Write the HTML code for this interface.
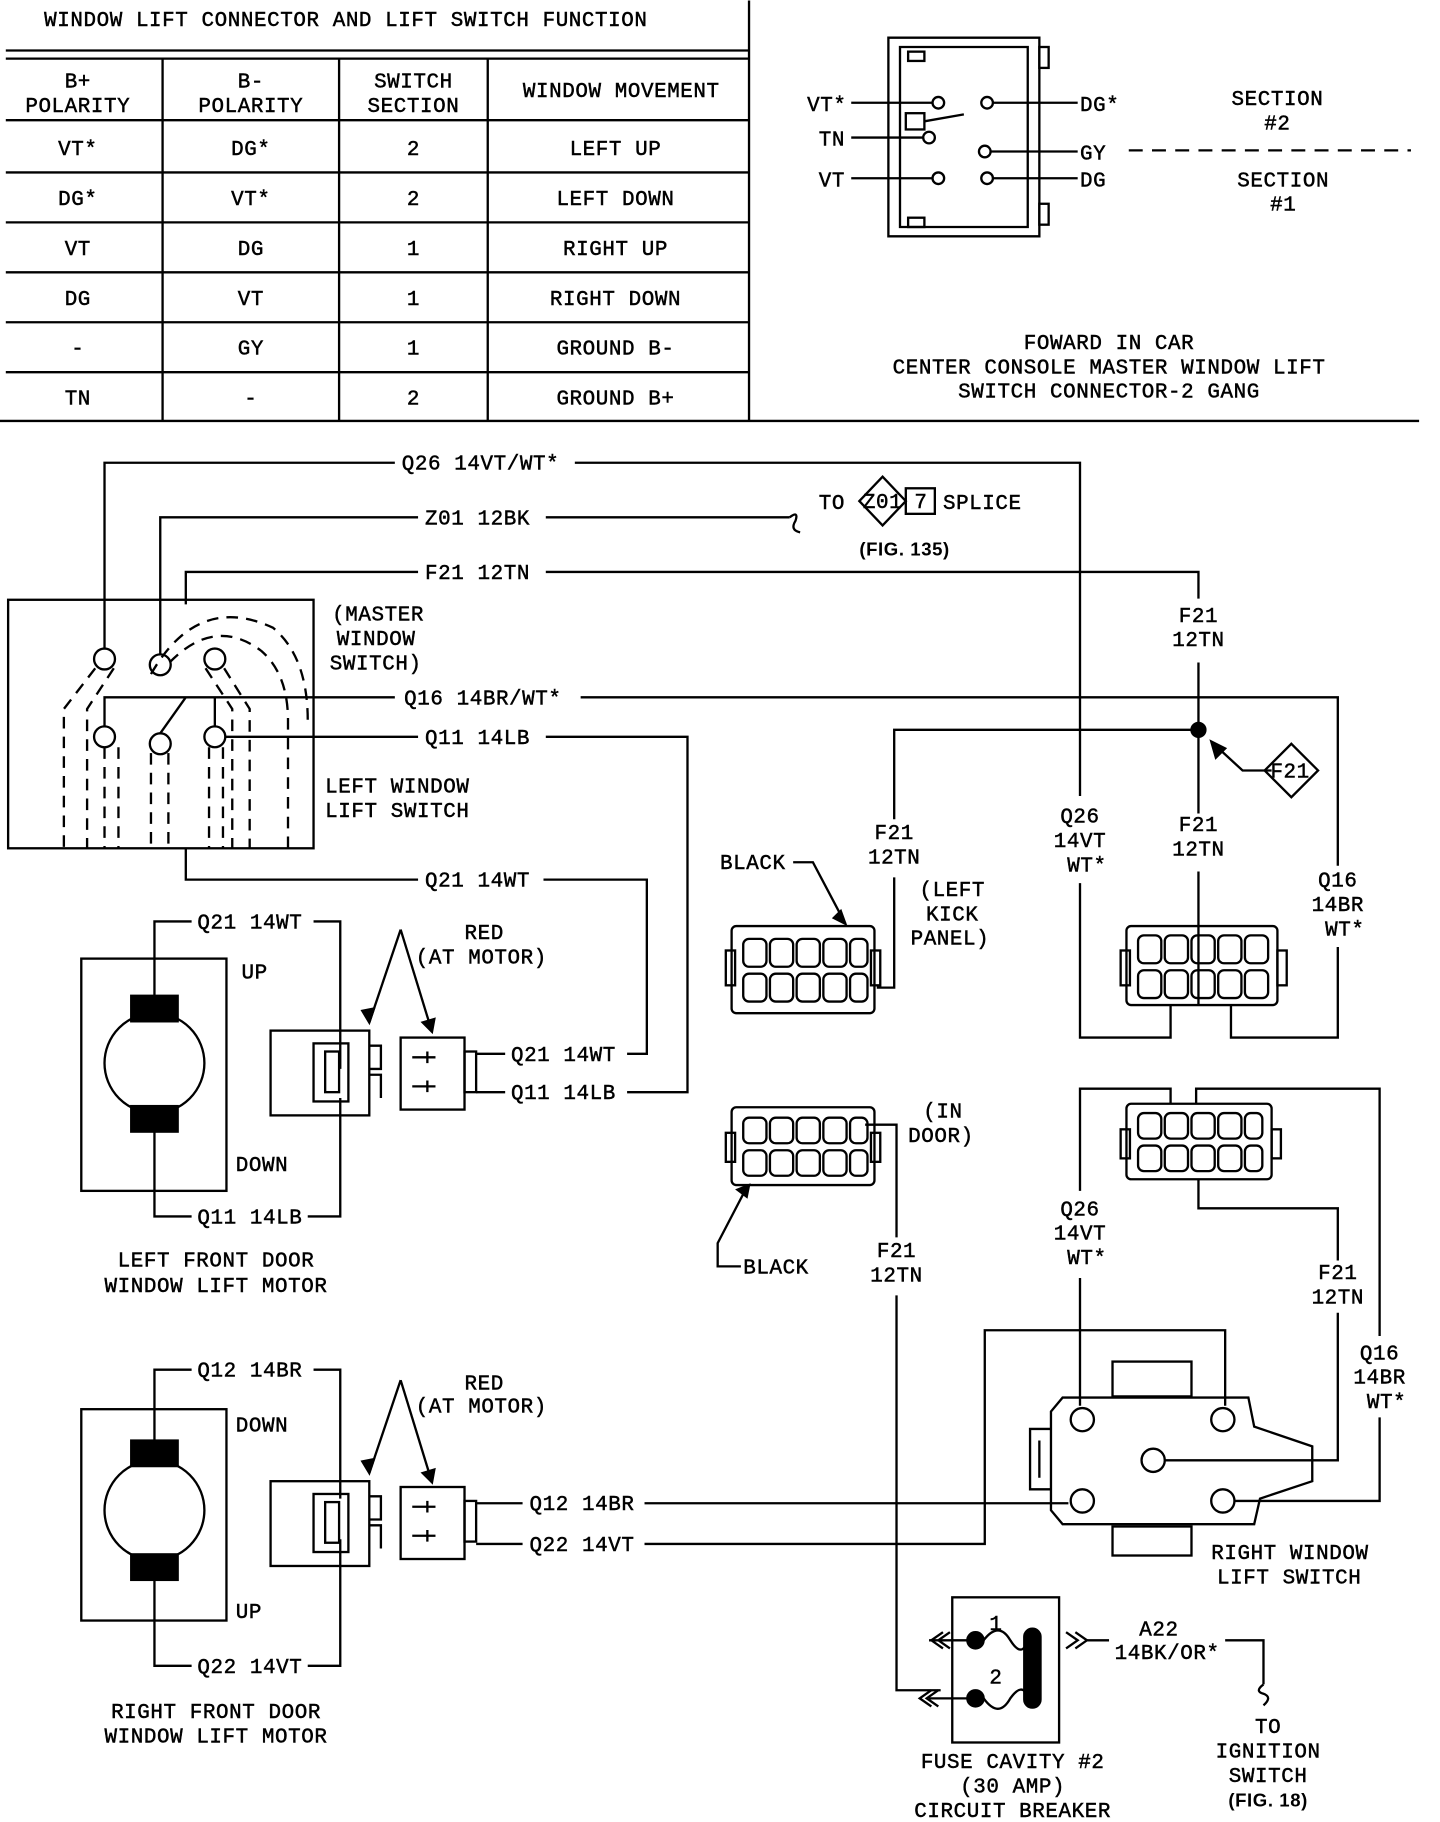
<!DOCTYPE html>
<html><head><meta charset="utf-8"><style>
html,body{margin:0;padding:0;background:#fff}
svg{display:block}
text{font-family:"Liberation Mono",monospace;font-size:18px;fill:#000;stroke:#000;stroke-width:0.4;letter-spacing:0.5px}
.b{font-family:"Liberation Sans",sans-serif;font-weight:bold;font-size:16px;stroke-width:0}
</style></head><body>
<svg width="1440" height="1822" viewBox="0 0 1240 1568" xmlns="http://www.w3.org/2000/svg">
<g stroke="#000" stroke-width="2" fill="none">
<line x1="5" y1="43" x2="645" y2="43"/><line x1="5" y1="50" x2="645" y2="50"/>
<line x1="645" y1="0" x2="645" y2="362"/>
<line x1="5" y1="103" x2="645" y2="103"/><line x1="5" y1="148" x2="645" y2="148"/>
<line x1="5" y1="191" x2="645" y2="191"/><line x1="5" y1="234" x2="645" y2="234"/>
<line x1="5" y1="277" x2="645" y2="277"/><line x1="5" y1="320" x2="645" y2="320"/>
<line x1="0" y1="362" x2="1222" y2="362"/>
<line x1="140" y1="50" x2="140" y2="362"/><line x1="292" y1="50" x2="292" y2="362"/><line x1="420" y1="50" x2="420" y2="362"/>
<path d="M765 32 H895 V203 H765 Z"/>
<path d="M775 40 H885 V195 H775 Z"/>
<rect x="895" y="40" width="8" height="18"/><rect x="895" y="175" width="8" height="18"/>
<rect x="782" y="44" width="14" height="8"/><rect x="782" y="187" width="14" height="8"/>
<circle cx="808" cy="88" r="5"/><circle cx="850" cy="88" r="5"/><circle cx="800" cy="118" r="5"/>
<circle cx="848" cy="130" r="5"/><circle cx="808" cy="153" r="5"/><circle cx="850" cy="153" r="5"/>
<rect x="780" y="97" width="16" height="14"/><path d="M796 104 L830 98"/>
<line x1="733" y1="88" x2="803" y2="88"/><line x1="733" y1="118" x2="795" y2="118"/><line x1="733" y1="153" x2="803" y2="153"/>
<line x1="855" y1="88" x2="928" y2="88"/><line x1="853" y1="130" x2="928" y2="130"/><line x1="855" y1="153" x2="928" y2="153"/>
<line x1="972" y1="129" x2="1215" y2="129" stroke-dasharray="12,8"/>
<rect x="7" y="516" width="263" height="214"/>
<circle cx="90" cy="567" r="9"/><circle cx="138" cy="572" r="9"/><circle cx="185" cy="567" r="9"/>
<circle cx="90" cy="634" r="9"/><circle cx="138" cy="640" r="9"/><circle cx="185" cy="634" r="9"/>
<g stroke-dasharray="10,7">
<path d="M82 575 L55 610 V730"/><path d="M98 575 L75 610 V730"/>
<path d="M146 570 Q185 530 225 560 Q248 580 248 620 V730"/>
<path d="M130 580 Q170 510 235 540 Q265 565 265 620"/>
<path d="M193 575 L215 610 V730"/><path d="M177 575 L200 610 V730"/>
<path d="M90 643 V730"/><path d="M102 643 V730"/><path d="M130 648 V730"/><path d="M145 648 V730"/><path d="M180 643 V730"/><path d="M192 643 V730"/>
</g>
<path d="M90 558 V398 H340"/><path d="M495 398 H930 V685"/><path d="M930 760 V893 H1008 V865"/>
<path d="M138 563 V445 H360"/><path d="M470 445 H680"/><path d="M680 445 q8 -6 5 3 q-5 8 4 10"/>
<path d="M160 520 V492 H360"/><path d="M470 492 H1032 V515"/><path d="M1032 570 V700"/><path d="M1032 750 V865"/>
<path d="M1032 628 H770 V705"/><path d="M770 755 V850 H755"/>
<circle cx="1032" cy="628" r="6" fill="#000"/>
<path d="M1095 663 L1070 663 L1045 640"/><path d="M1043 638 l4 14 l8 -8 z" fill="#000"/>
<path d="M1112 640 L1135 663 L1112 686 L1089 663 Z"/>
<path d="M90 625 V600 H340"/><path d="M500 600 H1152 V745"/><path d="M1152 815 V893 H1060 V865"/>
<path d="M194 634 H360"/><path d="M470 634 H592 V940 H540"/>
<path d="M138 631 L160 600"/><path d="M185 625 L185 600"/>
<path d="M160 730 V757 H360"/><path d="M468 757 H557 V907 H540"/>
<path d="M740 431 L760 410 L780 431 L760 452 Z"/><rect x="780" y="420" width="25" height="22"/>
<rect x="70" y="825" width="125" height="200"/>
<circle cx="133" cy="915" r="43"/>
<rect x="113" y="857" width="40" height="22" fill="#000"/><rect x="113" y="952" width="40" height="22" fill="#000"/>
<path d="M133 857 V793 H165"/><path d="M270 793 H293 V920"/>
<path d="M133 974 V1047 H165"/><path d="M265 1047 H293 V945"/>
<rect x="233" y="887" width="85" height="73"/><rect x="270" y="898" width="30" height="50"/><rect x="280" y="905" width="12" height="35"/><path d="M318 900 h10 v20 h-10 M318 925 h10 v20"/>
<rect x="345" y="893" width="55" height="62"/><path d="M355 910 h20 M355 935 h20 M368 905 v10 M368 930 v10"/><rect x="400" y="905" width="10" height="35"/>
<path d="M410 907 H435"/><path d="M410 940 H435"/>
<path d="M345 800 L318 880"/><path d="M345 800 L372 888"/>
<path d="M318 880 l-6 -10 l10 -2 z" fill="#000"/><path d="M372 888 l-8 -8 l10 -3 z" fill="#000"/>
<rect x="70" y="1213" width="125" height="182"/>
<circle cx="133" cy="1300" r="43"/>
<rect x="113" y="1240" width="40" height="22" fill="#000"/><rect x="113" y="1338" width="40" height="22" fill="#000"/>
<path d="M133 1240 V1179 H165"/><path d="M270 1179 H293 V1290"/>
<path d="M133 1360 V1434 H165"/><path d="M265 1434 H293 V1325"/>
<rect x="233" y="1275" width="85" height="73"/><rect x="270" y="1286" width="30" height="50"/><rect x="280" y="1293" width="12" height="35"/><path d="M318 1288 h10 v20 h-10 M318 1313 h10 v20"/>
<rect x="345" y="1280" width="55" height="62"/><path d="M355 1297 h20 M355 1322 h20 M368 1292 v10 M368 1317 v10"/><rect x="400" y="1292" width="10" height="35"/>
<path d="M410 1294 H450"/><path d="M410 1329 H450"/>
<path d="M345 1188 L318 1268"/><path d="M345 1188 L372 1276"/>
<path d="M318 1268 l-6 -10 l10 -2 z" fill="#000"/><path d="M372 1276 l-8 -8 l10 -3 z" fill="#000"/>
<path d="M555 1294 H920"/><path d="M555 1329 H848 V1145 H1055 V1210"/>
<rect x="630" y="797" width="123" height="75" rx="4"/><rect x="625" y="818" width="8" height="30"/><rect x="750" y="818" width="8" height="30"/>
<g><rect x="640" y="808" width="20" height="24" rx="5"/><rect x="663" y="808" width="20" height="24" rx="5"/><rect x="686" y="808" width="20" height="24" rx="5"/><rect x="709" y="808" width="20" height="24" rx="5"/><rect x="732" y="808" width="15" height="24" rx="5"/>
<rect x="640" y="838" width="20" height="24" rx="5"/><rect x="663" y="838" width="20" height="24" rx="5"/><rect x="686" y="838" width="20" height="24" rx="5"/><rect x="709" y="838" width="20" height="24" rx="5"/><rect x="732" y="838" width="15" height="24" rx="5"/></g>
<rect x="970" y="797" width="130" height="68" rx="4"/><rect x="965" y="818" width="8" height="30"/><rect x="1100" y="818" width="8" height="30"/>
<g><rect x="980" y="805" width="20" height="24" rx="5"/><rect x="1003" y="805" width="20" height="24" rx="5"/><rect x="1026" y="805" width="20" height="24" rx="5"/><rect x="1049" y="805" width="20" height="24" rx="5"/><rect x="1072" y="805" width="20" height="24" rx="5"/>
<rect x="980" y="835" width="20" height="24" rx="5"/><rect x="1003" y="835" width="20" height="24" rx="5"/><rect x="1026" y="835" width="20" height="24" rx="5"/><rect x="1049" y="835" width="20" height="24" rx="5"/><rect x="1072" y="835" width="20" height="24" rx="5"/></g>
<path d="M683 742 H700 L728 795"/><path d="M728 795 l-10 -5 l6 -6 z" fill="#000"/>
<rect x="630" y="953" width="123" height="67" rx="4"/><rect x="625" y="975" width="8" height="25"/><rect x="750" y="975" width="8" height="25"/>
<g><rect x="640" y="962" width="20" height="22" rx="5"/><rect x="663" y="962" width="20" height="22" rx="5"/><rect x="686" y="962" width="20" height="22" rx="5"/><rect x="709" y="962" width="20" height="22" rx="5"/><rect x="732" y="962" width="15" height="22" rx="5"/>
<rect x="640" y="990" width="20" height="22" rx="5"/><rect x="663" y="990" width="20" height="22" rx="5"/><rect x="686" y="990" width="20" height="22" rx="5"/><rect x="709" y="990" width="20" height="22" rx="5"/><rect x="732" y="990" width="15" height="22" rx="5"/></g>
<rect x="970" y="950" width="125" height="65" rx="4"/><rect x="965" y="972" width="8" height="25"/><rect x="1095" y="972" width="8" height="25"/>
<g><rect x="980" y="958" width="20" height="22" rx="5"/><rect x="1003" y="958" width="20" height="22" rx="5"/><rect x="1026" y="958" width="20" height="22" rx="5"/><rect x="1049" y="958" width="20" height="22" rx="5"/><rect x="1072" y="958" width="15" height="22" rx="5"/>
<rect x="980" y="986" width="20" height="22" rx="5"/><rect x="1003" y="986" width="20" height="22" rx="5"/><rect x="1026" y="986" width="20" height="22" rx="5"/><rect x="1049" y="986" width="20" height="22" rx="5"/><rect x="1072" y="986" width="15" height="22" rx="5"/></g>
<path d="M638 1090 H618 V1070 L643 1022"/><path d="M645 1020 l-10 4 l8 6 z" fill="#000"/>
<path d="M745 968 H772 V1065"/><path d="M772 1115 V1455 H810"/>
<path d="M930 1025 V937 H1008 V950"/><path d="M930 1100 V1210"/>
<path d="M1032 1015 V1040 H1152 V1085"/><path d="M1152 1130 V1257 H1003"/>
<path d="M1188 1150 V937 H1030 V950"/><path d="M1188 1220 V1292 H1063"/>
<path d="M915 1203 H1075 L1080 1228 L1130 1245 V1275 L1085 1290 L1080 1312 H915 L905 1300 V1215 Z"/>
<rect x="958" y="1172" width="68" height="30"/><rect x="958" y="1314" width="68" height="25"/>
<path d="M905 1230 H887 V1282 H905 M895 1240 V1272"/>
<circle cx="932" cy="1222" r="10"/><circle cx="1053" cy="1222" r="10"/><circle cx="993" cy="1257" r="10"/><circle cx="932" cy="1292" r="10"/><circle cx="1053" cy="1292" r="10"/>
<rect x="820" y="1375" width="92" height="125"/>
<circle cx="840" cy="1412" r="7" fill="#000"/><circle cx="840" cy="1462" r="7" fill="#000"/>
<path d="M800 1412 H833"/><path d="M800 1462 H833"/>
<path d="M812 1405 l-10 7 l10 7 M818 1405 l-10 7 l10 7"/>
<path d="M808 1455 l-10 7 l10 7 M802 1455 l-10 7 l10 7"/>
<path d="M847 1412 Q860 1395 870 1412 Q880 1428 885 1412"/><path d="M847 1462 Q860 1480 870 1462 Q880 1448 885 1460"/>
<rect x="882" y="1402" width="14" height="68" rx="7" fill="#000"/>
<path d="M918 1405 l10 7 l-10 7 M926 1405 l10 7 l-10 7"/>
<path d="M936 1412 H955"/><path d="M1055 1412 H1088 V1450"/><path d="M1088 1450 q-8 6 0 8 q8 3 0 10"/>
</g>
<text x="38" y="22">WINDOW LIFT CONNECTOR AND LIFT SWITCH FUNCTION</text>
<g text-anchor="middle">
<text x="67" y="75">B+</text><text x="67" y="96">POLARITY</text>
<text x="216" y="75">B-</text><text x="216" y="96">POLARITY</text>
<text x="356" y="75">SWITCH</text><text x="356" y="96">SECTION</text>
<text x="535" y="83">WINDOW MOVEMENT</text>
<text x="67" y="133">VT*</text><text x="216" y="133">DG*</text><text x="356" y="133">2</text><text x="530" y="133">LEFT UP</text>
<text x="67" y="176">DG*</text><text x="216" y="176">VT*</text><text x="356" y="176">2</text><text x="530" y="176">LEFT DOWN</text>
<text x="67" y="219">VT</text><text x="216" y="219">DG</text><text x="356" y="219">1</text><text x="530" y="219">RIGHT UP</text>
<text x="67" y="262">DG</text><text x="216" y="262">VT</text><text x="356" y="262">1</text><text x="530" y="262">RIGHT DOWN</text>
<text x="67" y="305">-</text><text x="216" y="305">GY</text><text x="356" y="305">1</text><text x="530" y="305">GROUND B-</text>
<text x="67" y="348">TN</text><text x="216" y="348">-</text><text x="356" y="348">2</text><text x="530" y="348">GROUND B+</text>
<text x="1100" y="90">SECTION</text><text x="1100" y="111">#2</text>
<text x="1105" y="160">SECTION</text><text x="1105" y="181">#1</text>
<text x="955" y="300">FOWARD IN CAR</text><text x="955" y="321">CENTER CONSOLE MASTER WINDOW LIFT</text><text x="955" y="342">SWITCH CONNECTOR-2 GANG</text>
<text x="1032" y="535">F21</text><text x="1032" y="556">12TN</text>
<text x="1032" y="715">F21</text><text x="1032" y="736">12TN</text>
<text x="770" y="722">F21</text><text x="770" y="743">12TN</text>
<text x="930" y="708">Q26</text><text x="930" y="729">14VT</text><text x="936" y="750">WT*</text>
<text x="1152" y="763">Q16</text><text x="1152" y="784">14BR</text><text x="1158" y="805">WT*</text>
<text x="820" y="771">(LEFT</text><text x="820" y="792">KICK</text><text x="818" y="813">PANEL)</text>
<text x="930" y="1046">Q26</text><text x="930" y="1067">14VT</text><text x="936" y="1088">WT*</text>
<text x="772" y="1082">F21</text><text x="772" y="1103">12TN</text>
<text x="1152" y="1101">F21</text><text x="1152" y="1122">12TN</text>
<text x="1188" y="1170">Q16</text><text x="1188" y="1191">14BR</text><text x="1194" y="1212">WT*</text>
<text x="186" y="1090">LEFT FRONT DOOR</text><text x="186" y="1112">WINDOW LIFT MOTOR</text>
<text x="186" y="1479">RIGHT FRONT DOOR</text><text x="186" y="1500">WINDOW LIFT MOTOR</text>
<text x="872" y="1522">FUSE CAVITY #2</text><text x="872" y="1543">(30 AMP)</text><text x="872" y="1564">CIRCUIT BREAKER</text>
<text x="998" y="1408">A22</text><text x="1005" y="1428">14BK/OR*</text>
<text x="1092" y="1492">TO</text><text x="1092" y="1513">IGNITION</text><text x="1092" y="1534">SWITCH</text>
<text x="1092" y="1555" class="b">(FIG. 18)</text>
<text x="760" y="437" font-size="15">Z01</text><text x="793" y="437" font-size="15">7</text>
</g>
<text x="695" y="95">VT*</text><text x="705" y="125">TN</text><text x="705" y="160">VT</text>
<text x="930" y="95">DG*</text><text x="930" y="137">GY</text><text x="930" y="160">DG</text>
<text x="346" y="404">Q26 14VT/WT*</text>
<text x="366" y="451">Z01 12BK</text>
<text x="705" y="438">TO</text><text x="812" y="438">SPLICE</text>
<text x="740" y="478" class="b">(FIG. 135)</text>
<text x="366" y="498">F21 12TN</text>
<text x="286" y="534">(MASTER</text><text x="290" y="555">WINDOW</text><text x="284" y="576">SWITCH)</text>
<text x="348" y="606">Q16 14BR/WT*</text>
<text x="366" y="640">Q11 14LB</text>
<text x="280" y="682">LEFT WINDOW</text><text x="280" y="703">LIFT SWITCH</text>
<text x="366" y="763">Q21 14WT</text>
<text x="1094" y="669" font-size="15">F21</text>
<text x="620" y="748">BLACK</text>
<text x="170" y="799">Q21 14WT</text>
<text x="208" y="842">UP</text>
<text x="400" y="808">RED</text><text x="358" y="829">(AT MOTOR)</text>
<text x="440" y="913">Q21 14WT</text><text x="440" y="946">Q11 14LB</text>
<text x="203" y="1008">DOWN</text>
<text x="170" y="1053">Q11 14LB</text>
<text x="795" y="962">(IN</text><text x="782" y="983">DOOR)</text>
<text x="640" y="1096">BLACK</text>
<text x="170" y="1185">Q12 14BR</text>
<text x="203" y="1232">DOWN</text>
<text x="400" y="1196">RED</text><text x="358" y="1216">(AT MOTOR)</text>
<text x="456" y="1300">Q12 14BR</text><text x="456" y="1335">Q22 14VT</text>
<text x="203" y="1393">UP</text>
<text x="170" y="1440">Q22 14VT</text>
<text x="1043" y="1342">RIGHT WINDOW</text><text x="1048" y="1363">LIFT SWITCH</text>
<text x="852" y="1403" font-size="16">1</text><text x="852" y="1449" font-size="16">2</text>
</svg>
</body></html>
